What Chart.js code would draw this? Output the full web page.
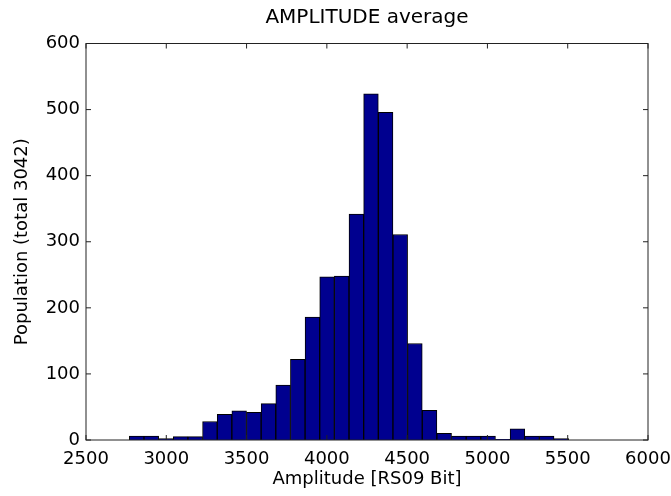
<!DOCTYPE html>
<html>
<head>
<meta charset="utf-8">
<script src="https://cdn.jsdelivr.net/npm/chart.js@4/dist/chart.umd.min.js"></script>
<style>
  body { margin: 0; background: #fff; }
  canvas { display: block; }
</style>
</head>
<body>
<canvas id="hist" width="671" height="496"></canvas>
<script>
// bin centres of the histogram (30 bins)
const binCenters = [
  2815.6, 2906.8, 2998.0, 3089.2, 3180.4, 3271.6, 3362.8, 3454.0, 3545.2, 3636.4,
  3727.6, 3818.8, 3910.0, 4001.2, 4092.4, 4183.6, 4274.8, 4366.0, 4457.2, 4548.4,
  4639.6, 4730.8, 4822.0, 4913.2, 5004.4, 5095.6, 5186.8, 5278.0, 5369.2, 5460.4
]
// population per bin (total 3042)
const counts = [
  6, 6, 2, 5, 5, 28, 39, 44, 42, 55,
  83, 122, 186, 247, 248, 342, 524, 496, 311, 146,
  45, 10, 6, 6, 6, 1, 17, 6, 6, 2
]
const xTicks = [2500, 3000, 3500, 4000, 4500, 5000, 5500, 6000]
const yTicks = [0, 100, 200, 300, 400, 500, 600]

const font = { family: "'DejaVu Sans', sans-serif", size: 18 }

// matlab style box with inward ticks
const frame = {
  id: 'frame',
  afterDatasetsDraw(chart) {
    const { ctx, chartArea: a, scales: { x, y } } = chart
    ctx.save()
    ctx.strokeStyle = '#222'
    ctx.lineWidth = 1
    ctx.strokeRect(a.left, a.top, a.right - a.left, a.bottom - a.top)
    ctx.beginPath()
    xTicks.forEach(t => {
      const px = x.getPixelForValue(t)
      ctx.moveTo(px, a.bottom); ctx.lineTo(px, a.bottom - 5)
      ctx.moveTo(px, a.top); ctx.lineTo(px, a.top + 5)
    })
    yTicks.forEach(t => {
      const py = y.getPixelForValue(t)
      ctx.moveTo(a.left, py); ctx.lineTo(a.left + 5, py)
      ctx.moveTo(a.right, py); ctx.lineTo(a.right - 5, py)
    })
    ctx.stroke()
    ctx.restore()
  }
}

new Chart(document.getElementById('hist'), {
  type: 'bar',
  data: {
    datasets: [{
      data: binCenters.map((c, i) => ({ x: c, y: counts[i] })),
      backgroundColor: 'rgb(0, 0, 143)',
      borderColor: '#000',
      borderWidth: 1,
      barPercentage: 1,
      categoryPercentage: 1
    }]
  },
  options: {
    responsive: false,
    animation: false,
    layout: { padding: { right: 23 } },
    plugins: {
      legend: { display: false },
      tooltip: { enabled: false },
      title: {
        display: true,
        text: 'AMPLITUDE average',
        fullSize: false,
        color: '#000',
        font: { family: font.family, size: 20, weight: 'normal' },
        padding: { top: 6, bottom: 13.5 }
      }
    },
    scales: {
      x: {
        type: 'linear',
        min: 2500,
        max: 6000,
        offset: false,
        afterFit: s => { s.height = 56; s.paddingLeft = 0; s.paddingRight = 0 },
        afterBuildTicks: s => { s.ticks = xTicks.map(v => ({ value: v })) },
        grid: { display: false, drawTicks: false, offset: false },
        border: { display: false },
        ticks: { color: '#000', font, padding: 9, maxRotation: 0, autoSkip: false, callback: v => String(v) },
        title: { display: true, text: 'Amplitude [RS09 Bit]', color: '#000', font, padding: { bottom: 6 } }
      },
      y: {
        min: 0,
        max: 600,
        afterFit: s => { s.width = 86 },
        afterBuildTicks: s => { s.ticks = yTicks.map(v => ({ value: v })) },
        grid: { display: false, drawTicks: false },
        border: { display: false },
        ticks: { color: '#000', font, padding: 6, callback: v => String(v) },
        title: { display: true, text: 'Population (total 3042)', color: '#000', font, padding: { top: 12 } }
      }
    }
  },
  plugins: [frame]
})
</script>
</body>
</html>
